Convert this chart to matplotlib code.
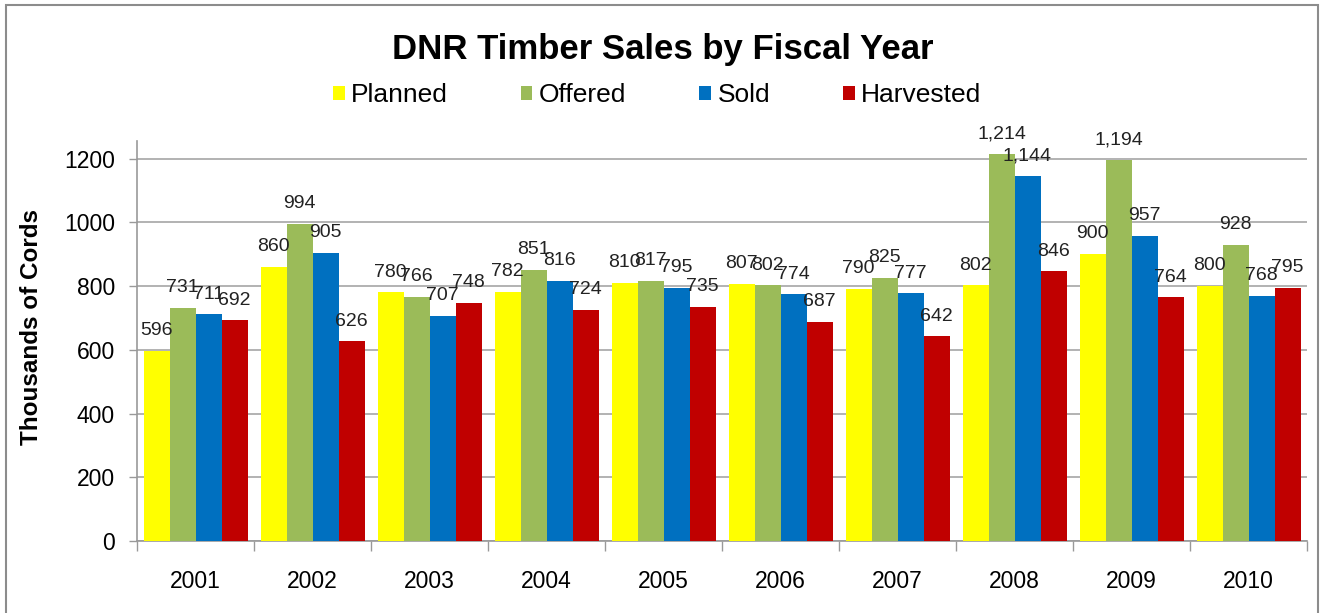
import matplotlib
matplotlib.use("Agg")
import matplotlib.pyplot as plt
from matplotlib.patches import Rectangle, Patch
import numpy as np

plt.rcParams['font.family'] = ['Liberation Sans', 'DejaVu Sans']

years = ['2001', '2002', '2003', '2004', '2005', '2006', '2007', '2008', '2009', '2010']
series_names = ['Planned', 'Offered', 'Sold', 'Harvested']
planned = [596, 860, 780, 782, 810, 807, 790, 802, 900, 800]
offered = [731, 994, 766, 851, 817, 802, 825, 1214, 1194, 928]
sold = [711, 905, 707, 816, 795, 774, 777, 1144, 957, 768]
harvested = [692, 626, 748, 724, 735, 687, 642, 846, 764, 795]
colors = ['#FFFF00', '#9BBB59', '#0070C0', '#C00000']
yticks = [0, 200, 400, 600, 800, 1000, 1200]

W, H = 1322, 613
fig = plt.figure(figsize=(W / 100, H / 100), dpi=100)
ax = fig.add_axes([137 / W, 1 - 541 / H, (1307 - 137) / W, (541 - 141) / H])

x = np.arange(len(years))
bw = 1 / 4.5
data = [planned, offered, sold, harvested]
for i, (vals, name, c) in enumerate(zip(data, series_names, colors)):
    bars = ax.bar(x + (i - 1.5) * bw, vals, width=bw, color=c, label=name,
                  zorder=3, linewidth=0)
    ax.bar_label(bars, labels=[f'{v:,}' for v in vals], padding=8.5,
                 fontsize=14, color='#222222', zorder=5)

ax.set_xlim(-0.5, len(years) - 0.5)
ax.set_ylim(0, 1255)
ax.set_yticks(yticks)
ax.set_yticklabels([str(t) for t in yticks], fontsize=16.5)
ax.set_xticks(x)
ax.set_xticklabels(years, fontsize=16.5)
ax.tick_params(axis='x', length=0, pad=21)
ax.set_xticks(np.arange(-0.5, len(years), 1), minor=True)
ax.tick_params(axis='x', which='minor', length=7, color='#999999', width=1)
ax.tick_params(axis='y', length=6, color='#999999', width=1, pad=10)

ax.grid(axis='y', color='#A6A6A6', linewidth=1.2, zorder=0)
for s in ['top', 'right']:
    ax.spines[s].set_visible(False)
for s in ['left', 'bottom']:
    ax.spines[s].set_color('#999999')
    ax.spines[s].set_linewidth(1.2)

ax.set_ylabel('Thousands of Cords', fontsize=17.5, fontweight='bold')
ax.yaxis.set_label_coords((43 - 137) / 1170, (541 - 327) / 400)

fig.text(0.5 * (390 + 935) / W, 1 - 49 / H, 'DNR Timber Sales by Fiscal Year',
         ha='center', va='center', fontsize=25, fontweight='bold')

handles = [Patch(facecolor=c, edgecolor='none') for c in colors]
fig.legend(handles, series_names, loc='center', bbox_to_anchor=(657 / W, 1 - 95 / H),
           ncol=4, frameon=False, fontsize=19, handlelength=0.45, handleheight=0.45,
           handletextpad=0.25, columnspacing=2.75)

fig.patches.append(Rectangle((6 / W, -0.05), (1318 - 6) / W, 1.05 - 5 / H,
                             transform=fig.transFigure, fill=False,
                             edgecolor='#8C8C8C', linewidth=1.5))

fig.savefig('out.png', dpi=100)
